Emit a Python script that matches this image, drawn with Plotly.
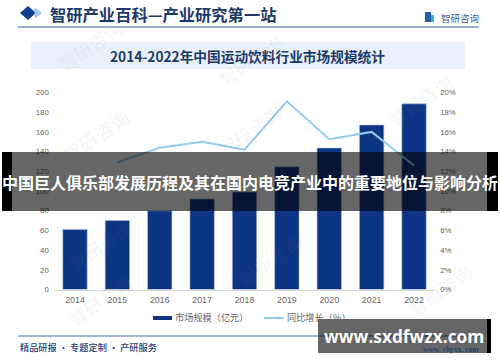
import plotly.graph_objects as go

years = ["2014", "2015", "2016", "2017", "2018", "2019", "2020", "2021", "2022"]
market_size = [61, 70, 80, 92, 99, 124.5, 143.6, 167, 188.5]
growth_years = years[1:]
growth_pct = [12.9, 14.4, 15.0, 14.2, 19.1, 15.25, 16.0, 12.6]
left_ticks = list(range(0, 201, 20))
right_ticks = list(range(0, 21, 2))
right_labels = [f"{v}%" for v in right_ticks]

W, H = 500, 362
CJK = "Noto Sans CJK SC"
NAVY = "#0d3483"
SKY = "#93cdef"

def px(x):
    return x / W

def py(y):
    return 1 - y / H

def rect(x0, y0, x1, y1, color, layer="above"):
    return dict(type="rect", xref="paper", yref="paper", x0=px(x0), x1=px(x1),
                y0=py(y1), y1=py(y0), fillcolor=color, line_width=0, layer=layer)

def hline(x0, x1, y, color, width):
    return dict(type="line", xref="paper", yref="paper", x0=px(x0), x1=px(x1),
                y0=py(y), y1=py(y), line=dict(color=color, width=width), layer="below")

def text(x, y, s, size, color, anchor="left", weight="normal", angle=0, family=CJK):
    return dict(xref="paper", yref="paper", x=px(x), y=py(y), text=s, showarrow=False,
                xanchor=anchor, yanchor="middle", textangle=angle,
                font=dict(size=size, color=color, family=family, weight=weight))

fig = go.Figure()
fig.add_trace(go.Bar(x=years, y=market_size, name="市场规模（亿元）", marker=dict(color=NAVY, line=dict(color="#a9bfdc", width=0.6)),
                     width=0.575, yaxis="y"))
fig.add_trace(go.Scatter(x=growth_years, y=growth_pct, name="同比增长（%）", mode="lines",
                         line=dict(color=SKY, width=2), yaxis="y2"))

shapes = [
    rect(31, 42, 465, 69, "#eaf1fa", "below"),
    hline(18, 479, 27, "#3b5f94", 1),
    hline(18, 480, 336, "#4a6ea8", 1),
    dict(type="path", xref="paper", yref="paper", layer="below", line_width=0, fillcolor="#123f8c",
         path=f"M {px(20)} {py(13)} L {px(28)} {py(6)} L {px(36)} {py(13)} L {px(28)} {py(20)} Z"),
    dict(type="path", xref="paper", yref="paper", layer="below", line_width=0, fillcolor="#a9c9ea",
         path=f"M {px(36)} {py(8)} L {px(42)} {py(13)} L {px(36)} {py(18)} L {px(33)} {py(15)} L {px(35)} {py(13)} L {px(33)} {py(10)} Z"),
    rect(425, 12, 431, 22, "#1f5fae", "below"),
    rect(431, 15, 434, 22, "#35a9d8", "below"),
    rect(153, 316, 172, 320, NAVY, "below"),
    hline(264, 284, 318, SKY, 2),
    rect(2, 152, 498, 211, "rgba(0,0,0,0.6)"),
    rect(2, 152, 12, 211, "#000000"),
    rect(487, 152, 498, 211, "#000000"),
    rect(318, 319, 491, 353, "rgba(0,0,0,0.6)"),
    rect(487, 319, 491, 353, "#000000"),
]

annotations = []
for x, y, size in [(95, 135, 19), (250, 60, 18), (100, 245, 18), (90, 45, 18),
                   (270, 260, 18), (420, 100, 18), (440, 290, 18), (250, 130, 18), (100, 300, 18)]:
    annotations.append(text(x, y, "智研咨询", size, "rgba(110,140,180,0.09)", "center", angle=-35))
annotations += [
    text(48, 14, "智研产业百科—产业研究第一站", 16.3, "#1b3a6b", weight="bold"),
    text(439, 18, "智研咨询", 9.5, "#4a5f80"),
    text(247, 56, "2014-2022年中国运动饮料行业市场规模统计", 13.7, "#1b3a6b", "center", "bold"),
    text(173, 317, "市场规模（亿元）", 9.2, "#666666"),
    text(285, 317, "同比增长（%）", 9.2, "#666666"),
    text(18, 347, "精品研报 · 专题定制 · 产研服务", 9.2, "#1f3f73", weight=500),
    text(421, 349, "www. chyxx. com", 7.5, "#1f3f73", weight="bold", family="Liberation Serif"),
    text(250, 182, "中国巨人俱乐部发展历程及其在国内电竞产业中的重要地位与影响分析", 16, "#ffffff", "center", "bold"),
    text(404, 336, "www.sxdfwzx.com", 17.3, "#ffffff", "center", "bold", family="Open Sans"),
]

fig.update_layout(
    width=W, height=H, autosize=False, margin=dict(l=0, r=0, t=0, b=0),
    paper_bgcolor="white", plot_bgcolor="white", showlegend=False, bargap=0.425,
    font=dict(family=CJK, size=9, color="#666666"),
    xaxis=dict(domain=[px(53.8), px(435.2)], type="category", showgrid=False, showline=True,
               linecolor="#d9d9d9", linewidth=1, ticks="", ticklabelstandoff=2,
               tickfont=dict(size=8.8, color="#666666", family="Liberation Sans"),
               automargin=False, zeroline=False),
    yaxis=dict(domain=[py(289.5), py(92.5)], range=[0, 200], tickvals=left_ticks, showgrid=False,
               zeroline=False, showline=False, ticks="", ticklabelstandoff=4,
               tickfont=dict(size=7.8, color="#666666", family="Liberation Sans"),
               automargin=False, anchor="x"),
    yaxis2=dict(domain=[py(289.5), py(92.5)], range=[0, 20], tickvals=right_ticks, ticktext=right_labels,
                overlaying="y", side="right", showgrid=False, zeroline=False, showline=False, ticks="",
                ticklabelstandoff=4,
                tickfont=dict(size=7.8, color="#666666", family="Liberation Sans"), automargin=False, anchor="x"),
    shapes=shapes, annotations=annotations,
)
fig.write_html("out.html", config={"displayModeBar": False},
               post_script="document.body.style.margin='0';document.documentElement.style.overflow='hidden';")
